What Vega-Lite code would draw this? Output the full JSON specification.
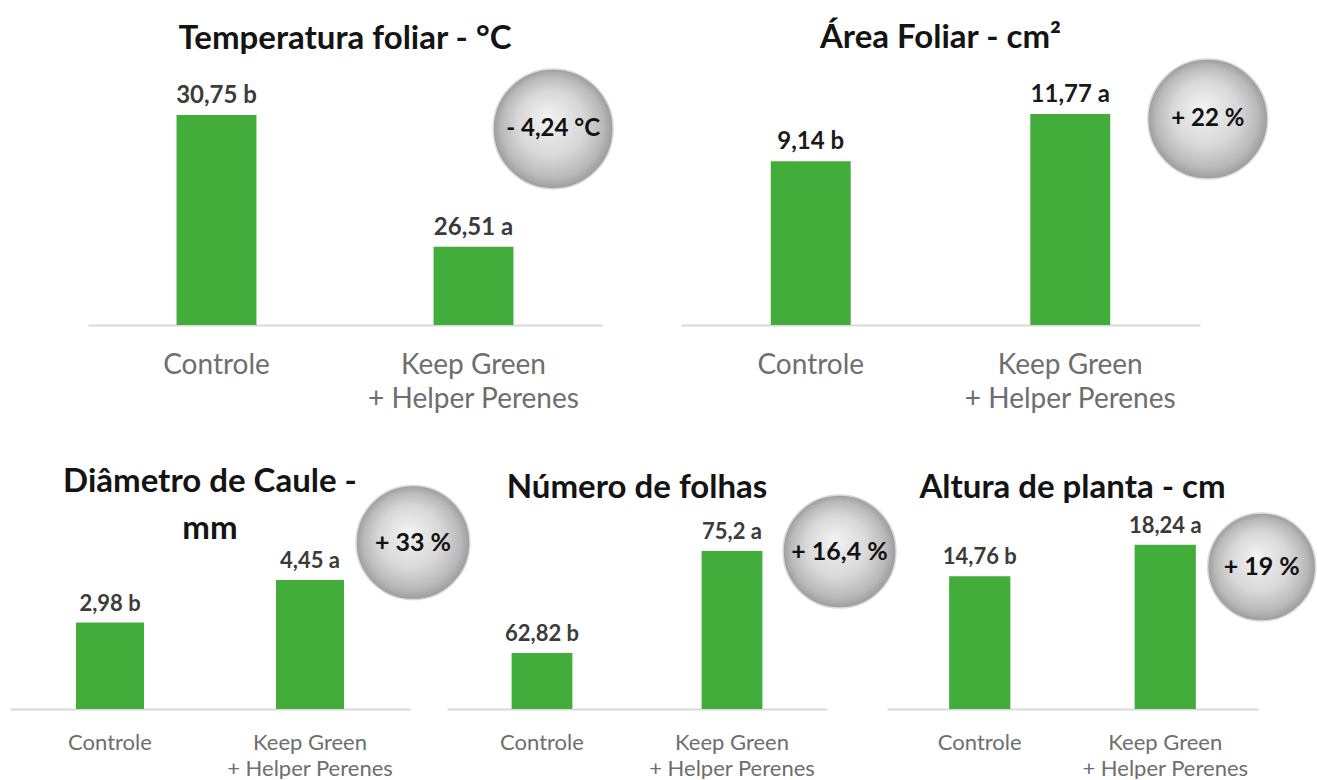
{
  "$schema": "https://vega.github.io/schema/vega-lite/v6.json",
  "background": "white",
  "padding": {"left": 10, "top": 22, "right": 0, "bottom": 0},
  "config": {"view": {"stroke": null}, "text": {"font": "Lato"}},
  "spacing": 47,
  "vconcat": [
    {
      "bounds": "flush",
      "spacing": 0,
      "hconcat": [
        {"width": 78, "height": 1, "data": {"values": []}, "mark": "point", "encoding": {}},
        {
          "width": 514, "height": 268,
          "title": {"text": "Temperatura foliar - °C", "frame": "group", "anchor": "middle", "offset": 1, "font": "Lato", "fontSize": 33, "fontWeight": "bold", "color": "#141414"},
          "layer": [
            {
              "data": {"values": [
                {"grupo": "Controle", "valor": 30.75, "rotulo": "30,75 b"},
                {"grupo": "Keep Green + Helper Perenes", "valor": 26.51, "rotulo": "26,51 a"}
              ]},
              "layer": [
                {
                  "mark": {"type": "bar", "width": {"band": 0.311}, "color": "#43ad3b"},
                  "encoding": {
                    "x": {"field": "grupo", "type": "nominal", "sort": null, "scale": {"type": "band", "domain": ["Controle", "Keep Green + Helper Perenes"], "paddingInner": 0, "paddingOuter": 0},
                      "axis": {"title": null, "labelAngle": 0, "ticks": false, "tickSize": 0, "domainColor": "#d9d9d9", "domainWidth": 2, "labelFont": "Lato", "labelFontSize": 28, "labelColor": "#6e6e6e", "labelPadding": 26, "labelLineHeight": 34, "labelLimit": 400, "labelOverlap": false, "labelExpr": "datum.value == 'Controle' ? 'Controle' : ['Keep Green', '+ Helper Perenes']"}},
                    "y": {"field": "valor", "type": "quantitative", "scale": {"domain": [24, 32.61], "zero": false, "nice": false}, "axis": null},
                    "y2": {"datum": 24}
                  }
                },
                {
                  "mark": {"type": "text", "baseline": "alphabetic", "dy": -12, "fontSize": 24, "fontWeight": "bold", "color": "#3b3b3b"},
                  "encoding": {
                    "x": {"field": "grupo", "type": "nominal", "sort": null},
                    "y": {"field": "valor", "type": "quantitative", "axis": null},
                    "text": {"field": "rotulo"}
                  }
                }
              ]
            },
            {
              "data": {"values": [{"grupo": "Keep Green + Helper Perenes", "badge": "- 4,24 °C"}]},
              "layer": [
                {
                  "mark": {"type": "point", "shape": "circle", "size": 14400, "filled": true, "opacity": 1, "stroke": "#dadada", "strokeWidth": 1.5,
                    "fill": {"gradient": "radial", "x1": 0.45, "y1": 0.4, "r1": 0, "x2": 0.5, "y2": 0.5, "r2": 0.5,
                      "stops": [{"offset": 0, "color": "#f3f3f3"}, {"offset": 0.55, "color": "#d8d8d8"}, {"offset": 0.85, "color": "#b9b9b9"}, {"offset": 1, "color": "#9c9c9c"}]}},
                  "encoding": {
                    "x": {"field": "grupo", "type": "nominal", "bandPosition": 0.81},
                    "y": {"datum": 30.3, "type": "quantitative", "axis": null}
                  }
                },
                {
                  "mark": {"type": "text", "baseline": "middle", "fontSize": 24, "fontWeight": "bold", "color": "#111111"},
                  "encoding": {
                    "x": {"field": "grupo", "type": "nominal", "bandPosition": 0.81},
                    "y": {"datum": 30.3, "type": "quantitative", "axis": null},
                    "text": {"field": "badge"}
                  }
                }
              ]
            }
          ]
        },
        {"width": 79, "height": 1, "data": {"values": []}, "mark": "point", "encoding": {}},
        {
          "width": 519, "height": 268,
          "title": {"text": "Área Foliar - cm²", "frame": "group", "anchor": "middle", "offset": 1, "font": "Lato", "fontSize": 33, "fontWeight": "bold", "color": "#141414"},
          "layer": [
            {
              "data": {"values": [
                {"grupo": "Controle", "valor": 9.14, "rotulo": "9,14 b"},
                {"grupo": "Keep Green + Helper Perenes", "valor": 11.77, "rotulo": "11,77 a"}
              ]},
              "layer": [
                {
                  "mark": {"type": "bar", "width": {"band": 0.308}, "color": "#43ad3b"},
                  "encoding": {
                    "x": {"field": "grupo", "type": "nominal", "sort": null, "scale": {"type": "band", "domain": ["Controle", "Keep Green + Helper Perenes"], "paddingInner": 0, "paddingOuter": 0},
                      "axis": {"title": null, "labelAngle": 0, "ticks": false, "tickSize": 0, "domainColor": "#d9d9d9", "domainWidth": 2, "labelFont": "Lato", "labelFontSize": 28, "labelColor": "#6e6e6e", "labelPadding": 26, "labelLineHeight": 34, "labelLimit": 400, "labelOverlap": false, "labelExpr": "datum.value == 'Controle' ? 'Controle' : ['Keep Green', '+ Helper Perenes']"}},
                    "y": {"field": "valor", "type": "quantitative", "scale": {"domain": [0, 14.95], "nice": false}, "axis": null}
                  }
                },
                {
                  "mark": {"type": "text", "baseline": "alphabetic", "dy": -12, "fontSize": 24, "fontWeight": "bold", "color": "#1a1a1a"},
                  "encoding": {
                    "x": {"field": "grupo", "type": "nominal", "sort": null},
                    "y": {"field": "valor", "type": "quantitative", "axis": null},
                    "text": {"field": "rotulo"}
                  }
                }
              ]
            },
            {
              "data": {"values": [{"grupo": "Keep Green + Helper Perenes", "badge": "+ 22 %"}]},
              "layer": [
                {
                  "mark": {"type": "point", "shape": "circle", "size": 14400, "filled": true, "opacity": 1, "stroke": "#dadada", "strokeWidth": 1.5,
                    "fill": {"gradient": "radial", "x1": 0.45, "y1": 0.4, "r1": 0, "x2": 0.5, "y2": 0.5, "r2": 0.5,
                      "stops": [{"offset": 0, "color": "#f3f3f3"}, {"offset": 0.55, "color": "#d8d8d8"}, {"offset": 0.85, "color": "#b9b9b9"}, {"offset": 1, "color": "#9c9c9c"}]}},
                  "encoding": {
                    "x": {"field": "grupo", "type": "nominal", "bandPosition": 1.03},
                    "y": {"datum": 11.49, "type": "quantitative", "axis": null}
                  }
                },
                {
                  "mark": {"type": "text", "baseline": "middle", "fontSize": 24, "fontWeight": "bold", "color": "#111111"},
                  "encoding": {
                    "x": {"field": "grupo", "type": "nominal", "bandPosition": 1.03},
                    "y": {"datum": 11.49, "type": "quantitative", "axis": null},
                    "text": {"field": "badge"}
                  }
                }
              ]
            }
          ]
        }
      ]
    },
    {
      "bounds": "flush",
      "spacing": 0,
      "hconcat": [
        {
          "width": 400, "height": 249,
          "title": {"text": ["Diâmetro de Caule -", "mm"], "frame": "group", "anchor": "middle", "offset": -86, "lineHeight": 47, "font": "Lato", "fontSize": 33, "fontWeight": "bold", "color": "#141414"},
          "layer": [
            {
              "data": {"values": [
                {"grupo": "Controle", "valor": 2.98, "rotulo": "2,98 b"},
                {"grupo": "Keep Green + Helper Perenes", "valor": 4.45, "rotulo": "4,45 a"}
              ]},
              "layer": [
                {
                  "mark": {"type": "bar", "width": {"band": 0.34}, "color": "#43ad3b"},
                  "encoding": {
                    "x": {"field": "grupo", "type": "nominal", "sort": null, "scale": {"type": "band", "domain": ["Controle", "Keep Green + Helper Perenes"], "paddingInner": 0, "paddingOuter": 0},
                      "axis": {"title": null, "labelAngle": 0, "ticks": false, "tickSize": 0, "domainColor": "#d9d9d9", "domainWidth": 2, "labelFont": "Lato", "labelFontSize": 22, "labelColor": "#6e6e6e", "labelPadding": 23, "labelLineHeight": 26, "labelLimit": 400, "labelOverlap": false, "labelExpr": "datum.value == 'Controle' ? 'Controle' : ['Keep Green', '+ Helper Perenes']"}},
                    "y": {"field": "valor", "type": "quantitative", "scale": {"domain": [0, 8.59], "nice": false}, "axis": null}
                  }
                },
                {
                  "mark": {"type": "text", "baseline": "alphabetic", "dy": -12, "fontSize": 22, "fontWeight": "bold", "color": "#3b3b3b"},
                  "encoding": {
                    "x": {"field": "grupo", "type": "nominal", "sort": null},
                    "y": {"field": "valor", "type": "quantitative", "axis": null},
                    "text": {"field": "rotulo"}
                  }
                }
              ]
            },
            {
              "data": {"values": [{"grupo": "Keep Green + Helper Perenes", "badge": "+ 33 %"}]},
              "layer": [
                {
                  "mark": {"type": "point", "shape": "circle", "size": 12996, "filled": true, "opacity": 1, "stroke": "#dadada", "strokeWidth": 1.5,
                    "fill": {"gradient": "radial", "x1": 0.45, "y1": 0.4, "r1": 0, "x2": 0.5, "y2": 0.5, "r2": 0.5,
                      "stops": [{"offset": 0, "color": "#f3f3f3"}, {"offset": 0.55, "color": "#d8d8d8"}, {"offset": 0.85, "color": "#b9b9b9"}, {"offset": 1, "color": "#9c9c9c"}]}},
                  "encoding": {
                    "x": {"field": "grupo", "type": "nominal", "bandPosition": 1.015},
                    "y": {"datum": 5.74, "type": "quantitative", "axis": null}
                  }
                },
                {
                  "mark": {"type": "text", "baseline": "middle", "fontSize": 25, "fontWeight": "bold", "color": "#111111"},
                  "encoding": {
                    "x": {"field": "grupo", "type": "nominal", "bandPosition": 1.015},
                    "y": {"datum": 5.74, "type": "quantitative", "axis": null},
                    "text": {"field": "badge"}
                  }
                }
              ]
            }
          ]
        },
        {"width": 37, "height": 1, "data": {"values": []}, "mark": "point", "encoding": {}},
        {
          "width": 380, "height": 249,
          "title": {"text": "Número de folhas", "frame": "group", "anchor": "middle", "offset": -45, "font": "Lato", "fontSize": 33, "fontWeight": "bold", "color": "#141414"},
          "layer": [
            {
              "data": {"values": [
                {"grupo": "Controle", "valor": 62.82, "rotulo": "62,82 b"},
                {"grupo": "Keep Green + Helper Perenes", "valor": 75.2, "rotulo": "75,2 a"}
              ]},
              "layer": [
                {
                  "mark": {"type": "bar", "width": {"band": 0.32}, "color": "#43ad3b"},
                  "encoding": {
                    "x": {"field": "grupo", "type": "nominal", "sort": null, "scale": {"type": "band", "domain": ["Controle", "Keep Green + Helper Perenes"], "paddingInner": 0, "paddingOuter": 0},
                      "axis": {"title": null, "labelAngle": 0, "ticks": false, "tickSize": 0, "domainColor": "#d9d9d9", "domainWidth": 2, "labelFont": "Lato", "labelFontSize": 22, "labelColor": "#6e6e6e", "labelPadding": 23, "labelLineHeight": 26, "labelLimit": 400, "labelOverlap": false, "labelExpr": "datum.value == 'Controle' ? 'Controle' : ['Keep Green', '+ Helper Perenes']"}},
                    "y": {"field": "valor", "type": "quantitative", "scale": {"domain": [56.02, 86.24], "zero": false, "nice": false}, "axis": null},
                    "y2": {"datum": 56.02}
                  }
                },
                {
                  "mark": {"type": "text", "baseline": "alphabetic", "dy": -12, "fontSize": 22, "fontWeight": "bold", "color": "#3b3b3b"},
                  "encoding": {
                    "x": {"field": "grupo", "type": "nominal", "sort": null},
                    "y": {"field": "valor", "type": "quantitative", "axis": null},
                    "text": {"field": "rotulo"}
                  }
                }
              ]
            },
            {
              "data": {"values": [{"grupo": "Keep Green + Helper Perenes", "badge": "+ 16,4 %"}]},
              "layer": [
                {
                  "mark": {"type": "point", "shape": "circle", "size": 12769, "filled": true, "opacity": 1, "stroke": "#dadada", "strokeWidth": 1.5,
                    "fill": {"gradient": "radial", "x1": 0.45, "y1": 0.4, "r1": 0, "x2": 0.5, "y2": 0.5, "r2": 0.5,
                      "stops": [{"offset": 0, "color": "#f3f3f3"}, {"offset": 0.55, "color": "#d8d8d8"}, {"offset": 0.85, "color": "#b9b9b9"}, {"offset": 1, "color": "#9c9c9c"}]}},
                  "encoding": {
                    "x": {"field": "grupo", "type": "nominal", "bandPosition": 1.066},
                    "y": {"datum": 75.13, "type": "quantitative", "axis": null}
                  }
                },
                {
                  "mark": {"type": "text", "baseline": "middle", "fontSize": 25, "fontWeight": "bold", "color": "#111111"},
                  "encoding": {
                    "x": {"field": "grupo", "type": "nominal", "bandPosition": 1.066},
                    "y": {"datum": 75.13, "type": "quantitative", "axis": null},
                    "text": {"field": "badge"}
                  }
                }
              ]
            }
          ]
        },
        {"width": 60, "height": 1, "data": {"values": []}, "mark": "point", "encoding": {}},
        {
          "width": 371, "height": 249,
          "title": {"text": "Altura de planta - cm", "frame": "group", "anchor": "middle", "offset": -45, "font": "Lato", "fontSize": 33, "fontWeight": "bold", "color": "#141414"},
          "layer": [
            {
              "data": {"values": [
                {"grupo": "Controle", "valor": 14.76, "rotulo": "14,76 b"},
                {"grupo": "Keep Green + Helper Perenes", "valor": 18.24, "rotulo": "18,24 a"}
              ]},
              "layer": [
                {
                  "mark": {"type": "bar", "width": {"band": 0.33}, "color": "#43ad3b"},
                  "encoding": {
                    "x": {"field": "grupo", "type": "nominal", "sort": null, "scale": {"type": "band", "domain": ["Controle", "Keep Green + Helper Perenes"], "paddingInner": 0, "paddingOuter": 0},
                      "axis": {"title": null, "labelAngle": 0, "ticks": false, "tickSize": 0, "domainColor": "#d9d9d9", "domainWidth": 2, "labelFont": "Lato", "labelFontSize": 22, "labelColor": "#6e6e6e", "labelPadding": 23, "labelLineHeight": 26, "labelLimit": 400, "labelOverlap": false, "labelExpr": "datum.value == 'Controle' ? 'Controle' : ['Keep Green', '+ Helper Perenes']"}},
                    "y": {"field": "valor", "type": "quantitative", "scale": {"domain": [0, 27.67], "nice": false}, "axis": null}
                  }
                },
                {
                  "mark": {"type": "text", "baseline": "alphabetic", "dy": -12, "fontSize": 22, "fontWeight": "bold", "color": "#3b3b3b"},
                  "encoding": {
                    "x": {"field": "grupo", "type": "nominal", "sort": null},
                    "y": {"field": "valor", "type": "quantitative", "axis": null},
                    "text": {"field": "rotulo"}
                  }
                }
              ]
            },
            {
              "data": {"values": [{"grupo": "Keep Green + Helper Perenes", "badge": "+ 19 %"}]},
              "layer": [
                {
                  "mark": {"type": "point", "shape": "circle", "size": 11664, "filled": true, "opacity": 1, "stroke": "#dadada", "strokeWidth": 1.5,
                    "fill": {"gradient": "radial", "x1": 0.45, "y1": 0.4, "r1": 0, "x2": 0.5, "y2": 0.5, "r2": 0.5,
                      "stops": [{"offset": 0, "color": "#f3f3f3"}, {"offset": 0.55, "color": "#d8d8d8"}, {"offset": 0.85, "color": "#b9b9b9"}, {"offset": 1, "color": "#9c9c9c"}]}},
                  "encoding": {
                    "x": {"field": "grupo", "type": "nominal", "bandPosition": 1.02},
                    "y": {"datum": 15.78, "type": "quantitative", "axis": null}
                  }
                },
                {
                  "mark": {"type": "text", "baseline": "middle", "fontSize": 25, "fontWeight": "bold", "color": "#111111"},
                  "encoding": {
                    "x": {"field": "grupo", "type": "nominal", "bandPosition": 1.02},
                    "y": {"datum": 15.78, "type": "quantitative", "axis": null},
                    "text": {"field": "badge"}
                  }
                }
              ]
            }
          ]
        }
      ]
    }
  ]
}
